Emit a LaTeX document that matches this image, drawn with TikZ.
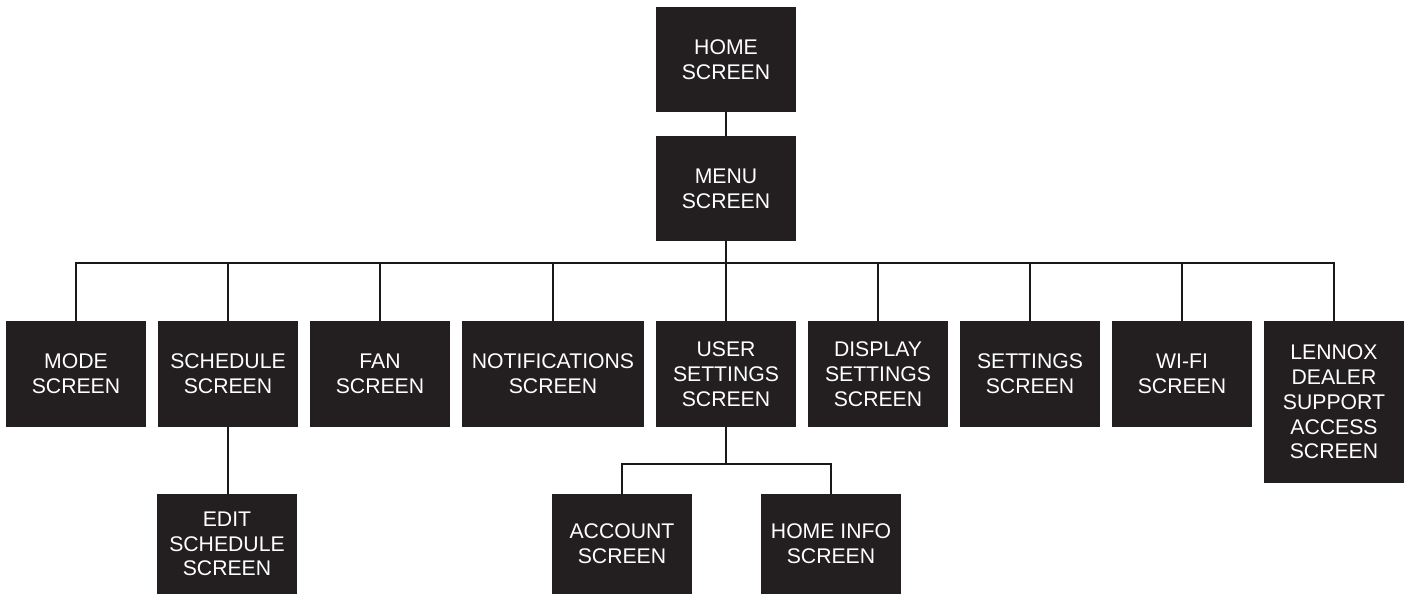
\documentclass[tikz,border=0pt]{standalone}
\usepackage{fontspec}
\setmainfont{Liberation Sans}
\definecolor{boxfill}{HTML}{231F20}
\begin{document}
\begin{tikzpicture}[x=1pt,y=-1pt,
  scr/.style={fill=boxfill,draw=none,text=white,inner sep=0pt,align=center,
    minimum width=140pt,minimum height=106pt,font=\fontsize{21.2}{24.8}\selectfont},
  link/.style={draw=black!90,line width=1.6pt}]
\useasboundingbox (0,0) rectangle (1408,596);
\node[scr,minimum height=105pt] (home) at (726,59.5) {HOME\\SCREEN};
\node[scr,minimum height=105pt] (menu) at (726,188.5) {MENU\\SCREEN};
\node[scr] (mode) at (76,374) {MODE\\SCREEN};
\node[scr] (sched) at (228,374) {SCHEDULE\\SCREEN};
\node[scr] (fan) at (380,374) {FAN\\SCREEN};
\node[scr,minimum width=182pt] (notif) at (553,374) {NOTIFICATIONS\\SCREEN};
\node[scr] (user) at (726,374) {USER\\SETTINGS\\SCREEN};
\node[scr] (disp) at (878,374) {DISPLAY\\SETTINGS\\SCREEN};
\node[scr] (sett) at (1030,374) {SETTINGS\\SCREEN};
\node[scr] (wifi) at (1182,374) {WI-FI\\SCREEN};
\node[scr,minimum height=162pt] (lennox) at (1334,402) {LENNOX\\DEALER\\SUPPORT\\ACCESS\\SCREEN};
\node[scr,minimum height=100pt] (edit) at (227,544) {EDIT\\SCHEDULE\\SCREEN};
\node[scr,minimum height=100pt] (acct) at (622,544) {ACCOUNT\\SCREEN};
\node[scr,minimum height=100pt] (hinfo) at (831,544) {HOME INFO\\SCREEN};
\coordinate (bus) at (0,263);
\coordinate (sub) at (0,464);
\draw[link] (home) -- (menu);
\draw[link] (menu) -- (user);
\draw[link] (mode.north) -- (mode.north |- bus) -- (lennox.north |- bus) -- (lennox.north);
\foreach \n in {sched,fan,notif,disp,sett,wifi}
  \draw[link] (\n.north) -- (\n.north |- bus);
\draw[link] (sched) -- (sched.south |- edit.north);
\draw[link] (user.south) -- (user.south |- sub);
\draw[link] (acct.north) -- (acct.north |- sub) -- (hinfo.north |- sub) -- (hinfo.north);
\end{tikzpicture}
\end{document}
